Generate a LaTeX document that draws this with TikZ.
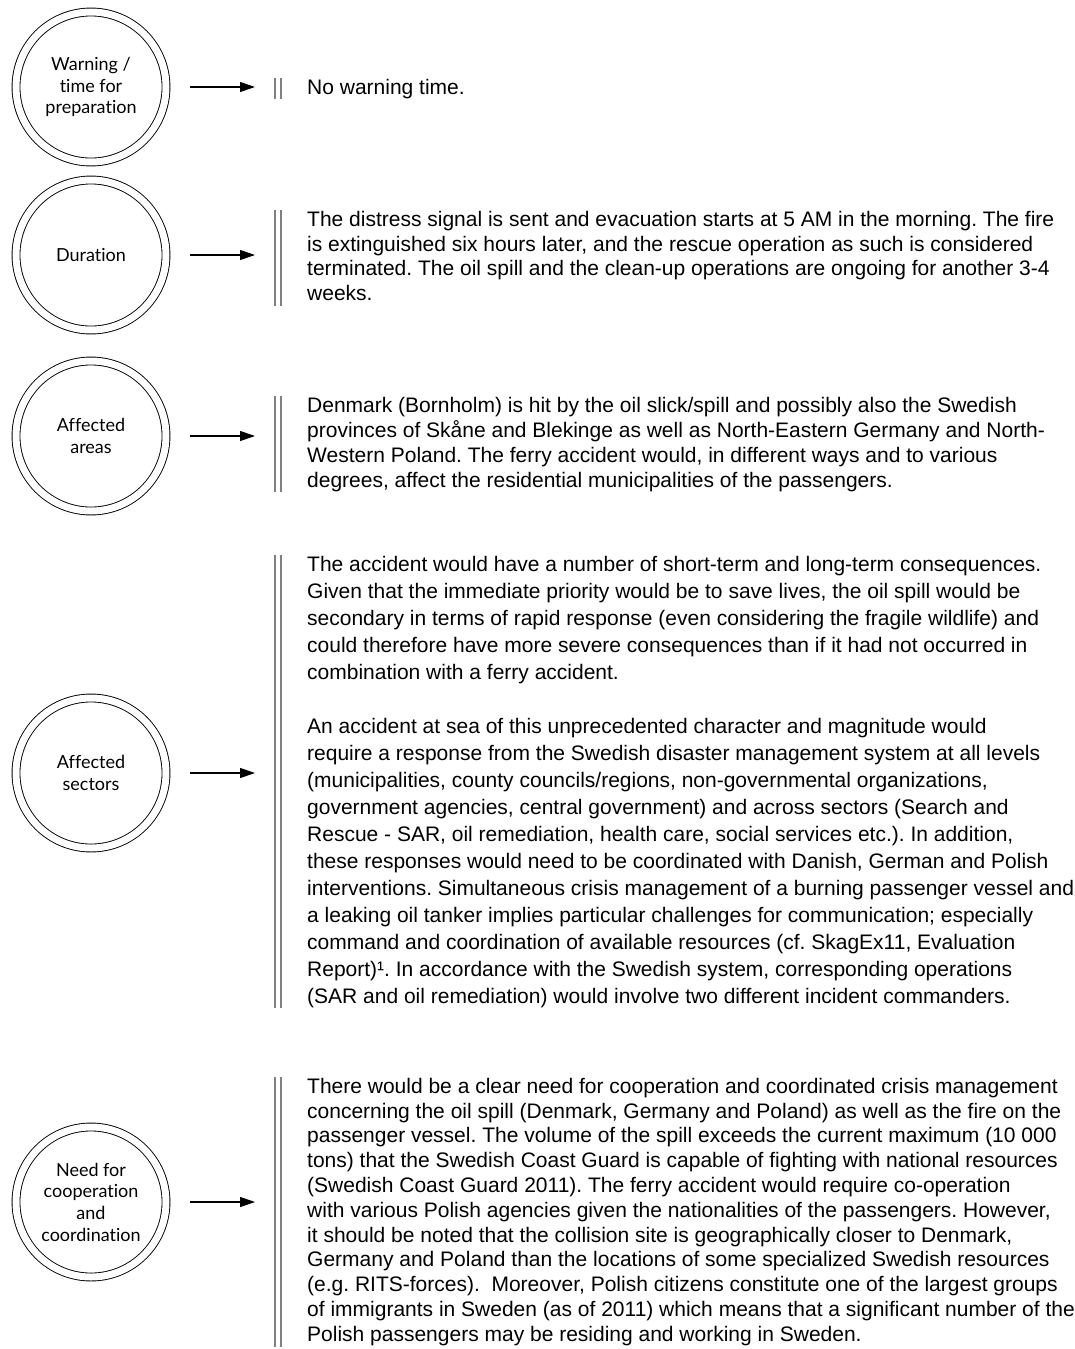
\documentclass[tikz,border=0pt]{standalone}
\usepackage{fontspec}
\setmainfont{Liberation Sans}
\newfontfamily\circfont[Ligatures=NoCommon]{Lato}
\usetikzlibrary{arrows.meta}
\begin{document}
\frenchspacing
\begin{tikzpicture}[x=1pt,y=-1pt,
  circ/.style={circle, draw, line width=0.9pt, double, double distance=7pt,
    minimum size=150pt, inner sep=0pt, align=center,
    font=\circfont\fontsize{18}{21.7}\selectfont},
  arr/.style={line width=1.2pt, -{Triangle[length=15pt,width=10pt]},
    shorten <=24pt, shorten >=20pt},
  bar/.style={draw=black!50, line width=1.6pt},
  txt/.style={anchor=north west, inner sep=0pt, align=left,
    font=\fontsize{21}{24.8}\selectfont},
  txtwide/.style={txt, font=\fontsize{21}{27}\selectfont}]
\useasboundingbox[fill=white] (0,0) rectangle (1075,1349);

% ---- row 1
\node[circ] (c1) at (91,87) {Warning /\\time for\\preparation};
\coordinate (b1) at (275,87);
\draw[arr] (c1.east) -- (b1);
\draw[bar] (275,78) -- (275,99);
\draw[bar] (281,78) -- (281,99);
\node[txt] (t1) at (307,94-17.36) {\strut No warning time.};

% ---- row 2
\node[circ] (c2) at (91,255) {Duration};
\coordinate (b2) at (275,255);
\draw[arr] (c2.east) -- (b2);
\draw[bar] (275,210) -- (275,306);
\draw[bar] (281,210) -- (281,306);
\node[txt] (t2) at (307,226-17.36) {\strut The distress signal is sent and evacuation starts at 5 AM in the morning. The fire\\
is extinguished six hours later, and the rescue operation as such is considered\\
terminated. The oil spill and the clean-up operations are ongoing for another 3-4\\
weeks.};

% ---- row 3
\node[circ] (c3) at (91,436) {Affected\\areas};
\coordinate (b3) at (275,436);
\draw[arr] (c3.east) -- (b3);
\draw[bar] (275,396) -- (275,492);
\draw[bar] (281,396) -- (281,492);
\node[txt] (t3) at (307,412.6-17.36) {\strut Denmark (Bornholm) is hit by the oil slick/spill and possibly also the Swedish\\
provinces of Skåne and Blekinge as well as North-Eastern Germany and North-\\
Western Poland. The ferry accident would, in different ways and to various\\
degrees, affect the residential municipalities of the passengers.};

% ---- row 4
\node[circ] (c4) at (91,773) {Affected\\sectors};
\coordinate (b4) at (275,773);
\draw[arr] (c4.east) -- (b4);
\draw[bar] (275,555) -- (275,1008);
\draw[bar] (281,555) -- (281,1008);
\node[txtwide] (t4) at (307,571-18.9) {\strut The accident would have a number of short-term and long-term consequences.\\
Given that the immediate priority would be to save lives, the oil spill would be\\
secondary in terms of rapid response (even considering the fragile wildlife) and\\
could therefore have more severe consequences than if it had not occurred in\\
combination with a ferry accident.\\[27pt]
An accident at sea of this unprecedented character and magnitude would\\
require a response from the Swedish disaster management system at all levels\\
(municipalities, county councils/regions, non-governmental organizations,\\
government agencies, central government) and across sectors (Search and\\
Rescue - SAR, oil remediation, health care, social services etc.). In addition,\\
these responses would need to be coordinated with Danish, German and Polish\\
interventions. Simultaneous crisis management of a burning passenger vessel and\\
a leaking oil tanker implies particular challenges for communication; especially\\
command and coordination of available resources (cf. SkagEx11, Evaluation\\
Report)¹. In accordance with the Swedish system, corresponding operations\\
(SAR and oil remediation) would involve two different incident commanders.};

% ---- row 5
\node[circ] (c5) at (91,1202) {Need for\\cooperation\\and\\coordination};
\coordinate (b5) at (275,1202);
\draw[arr] (c5.east) -- (b5);
\draw[bar] (275,1077) -- (275,1347);
\draw[bar] (281,1077) -- (281,1347);
\node[txt] (t5) at (307,1093-17.36) {\strut There would be a clear need for cooperation and coordinated crisis management\\
concerning the oil spill (Denmark, Germany and Poland) as well as the fire on the\\
passenger vessel. The volume of the spill exceeds the current maximum (10~000\\
tons) that the Swedish Coast Guard is capable of fighting with national resources\\
(Swedish Coast Guard 2011). The ferry accident would require co-operation\\
with various Polish agencies given the nationalities of the passengers. However,\\
it should be noted that the collision site is geographically closer to Denmark,\\
Germany and Poland than the locations of some specialized Swedish resources\\
(e.g. RITS-forces).\ \ Moreover, Polish citizens constitute one of the largest groups\\
of immigrants in Sweden (as of 2011) which means that a significant number of the\\
Polish passengers may be residing and working in Sweden.};
\end{tikzpicture}
\end{document}
